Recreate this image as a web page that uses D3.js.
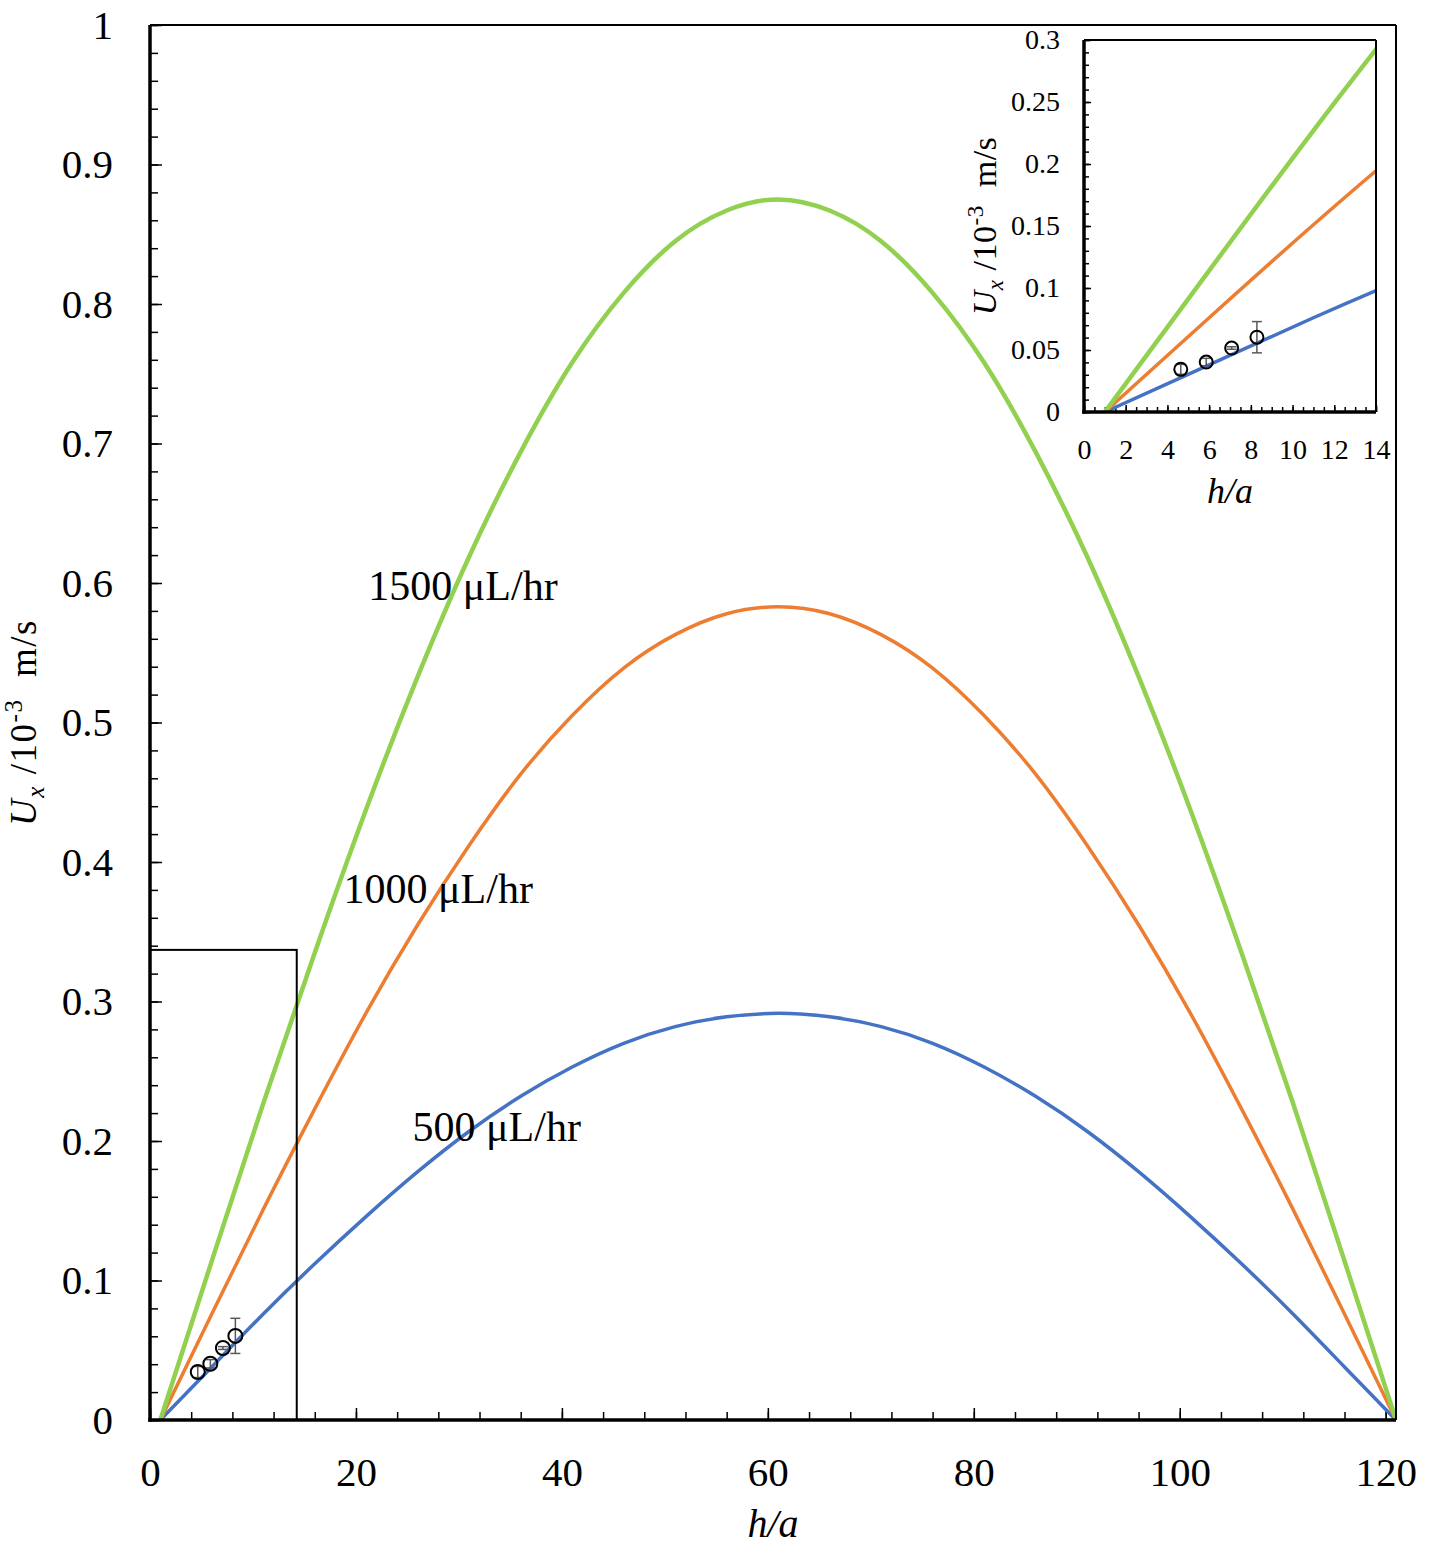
<!DOCTYPE html>
<html>
<head>
<meta charset="utf-8">
<script src="https://cdn.jsdelivr.net/npm/d3@7"></script>
<style>
  body { margin: 0; background: #fff; }
  svg { display: block; }
  text { font-family: "Liberation Serif", "Times New Roman", serif; fill: #000; }
</style>
</head>
<body>
<div id="chart"></div>
<script>
// ---------------------------------------------------------------------------
// Data
// ---------------------------------------------------------------------------
const hOverA = [1, 6, 11, 16, 21, 26, 31, 36, 41, 46, 51, 56, 61,
                66, 71, 76, 81, 86, 91, 96, 101, 106, 111, 116, 121];
const ux500 = [0, 0.038, 0.076, 0.112, 0.146, 0.178, 0.207, 0.232, 0.253, 0.270, 0.282, 0.289, 0.2915,
               0.289, 0.282, 0.270, 0.253, 0.232, 0.207, 0.178, 0.146, 0.112, 0.076, 0.038, 0];
const ux1000 = [0, 0.076, 0.151, 0.223, 0.292, 0.355, 0.412, 0.463, 0.505, 0.539, 0.563, 0.578, 0.583,
                0.578, 0.563, 0.539, 0.505, 0.463, 0.412, 0.355, 0.292, 0.223, 0.151, 0.076, 0];
const ux1500 = [0, 0.114, 0.227, 0.335, 0.438, 0.533, 0.619, 0.694, 0.758, 0.808, 0.845, 0.867, 0.875,
                0.867, 0.845, 0.808, 0.758, 0.694, 0.619, 0.533, 0.438, 0.335, 0.227, 0.114, 0];

const seriesNames = ["500 μL/hr", "1000 μL/hr", "1500 μL/hr"];
const seriesColors = ["#4472C4", "#ED7D31", "#92D050"];
const seriesWidths = [3.5, 3.5, 4.5];

// measured points with error bars
const expH = [4.64, 5.86, 7.08, 8.29];
const expU = [0.0344, 0.0403, 0.0516, 0.0603];
const expErr = [0.004, 0.003, 0.001, 0.0126];

// curve label anchors (h/a, Ux)
const labelH = [25.5, 18.8, 21.2];
const labelU = [0.2, 0.3705, 0.588];

// ---------------------------------------------------------------------------
const W = 1434, H = 1546;
const svg = d3.select("#chart").append("svg").attr("width", W).attr("height", H);

const series = seriesNames.map((name, i) => ({
  name, color: seriesColors[i], width: seriesWidths[i],
  values: hOverA.map((h, j) => ({ h, u: [ux500, ux1000, ux1500][i][j] })),
}));
const points = expH.map((h, i) => ({ h, u: expU[i], e: expErr[i] }));

function drawPanel(g, opt) {
  const { x, y } = opt;
  const [x0, x1] = x.range();
  const [y0, y1] = y.range();

  const clipId = "clip-" + opt.id;
  g.append("clipPath").attr("id", clipId)
    .append("rect").attr("x", x0).attr("y", y1).attr("width", x1 - x0).attr("height", y0 - y1);

  // minor + major ticks, pointing inward
  g.append("g").attr("transform", `translate(${x0},0)`)
    .call(d3.axisLeft(y).tickValues(opt.yMinor).tickSize(-opt.minorLen).tickFormat(""))
    .call(s => s.select(".domain").remove());
  g.append("g").attr("transform", `translate(0,${y0})`)
    .call(d3.axisBottom(x).tickValues(opt.xMinor).tickSize(-opt.minorLen).tickFormat(""))
    .call(s => s.select(".domain").remove());

  const yAx = g.append("g").attr("transform", `translate(${x0},0)`)
    .call(d3.axisLeft(y).tickValues(opt.yMajor).tickSize(-opt.majorLen).tickPadding(opt.yPad)
      .tickFormat(d3.format("")))
    .call(s => s.select(".domain").remove());
  yAx.selectAll("text").style("font-size", opt.tickFont + "px")
    .style("font-family", '"Liberation Serif", serif');

  const xAx = g.append("g").attr("transform", `translate(0,${y0})`)
    .call(d3.axisBottom(x).tickValues(opt.xMajor).tickSize(-opt.majorLen).tickPadding(opt.xPad)
      .tickFormat(d3.format("")))
    .call(s => s.select(".domain").remove());
  xAx.selectAll("text").style("font-size", opt.tickFont + "px")
    .style("font-family", '"Liberation Serif", serif');
  g.selectAll(".tick line").attr("stroke", "#000").attr("stroke-width", opt.tickW);

  // curves
  const line = d3.line().x(d => x(d.h)).y(d => y(d.u)).curve(d3.curveNatural);
  const curves = g.append("g").attr("clip-path", `url(#${clipId})`);
  curves.selectAll("path").data(series).join("path")
    .attr("d", d => line(d.values))
    .attr("fill", "none")
    .attr("stroke", d => d.color)
    .attr("stroke-width", d => d.width * opt.lineScale);

  // error bars + circles
  const pg = g.append("g");
  pg.selectAll("line.err").data(points).join("line").attr("class", "err")
    .attr("x1", d => x(d.h)).attr("x2", d => x(d.h))
    .attr("y1", d => y(d.u - d.e)).attr("y2", d => y(d.u + d.e))
    .attr("stroke", "#595959").attr("stroke-width", 1.5);
  for (const side of [-1, 1]) {
    pg.selectAll("line.cap" + side).data(points).join("line").attr("class", "cap" + side)
      .attr("x1", d => x(d.h) - opt.cap).attr("x2", d => x(d.h) + opt.cap)
      .attr("y1", d => y(d.u + side * d.e)).attr("y2", d => y(d.u + side * d.e))
      .attr("stroke", "#595959").attr("stroke-width", 1.5);
  }
  pg.selectAll("circle").data(points).join("circle")
    .attr("cx", d => x(d.h)).attr("cy", d => y(d.u)).attr("r", opt.r)
    .attr("fill", "none").attr("stroke", "#000").attr("stroke-width", 2);

  // frame: thick left/bottom, thin top/right
  g.append("line").attr("x1", x0).attr("x2", x1).attr("y1", y1).attr("y2", y1)
    .attr("stroke", "#000").attr("stroke-width", opt.thin);
  g.append("line").attr("x1", x1).attr("x2", x1).attr("y1", y1).attr("y2", y0)
    .attr("stroke", "#000").attr("stroke-width", opt.thin);
  g.append("line").attr("x1", x0).attr("x2", x0).attr("y1", y1).attr("y2", y0 + opt.thick / 2)
    .attr("stroke", "#000").attr("stroke-width", opt.thick);
  g.append("line").attr("x1", x0 - opt.thick / 2).attr("x2", x1).attr("y1", y0).attr("y2", y0)
    .attr("stroke", "#000").attr("stroke-width", opt.thick);

  // axis titles
  g.append("text").attr("x", (x0 + x1) / 2).attr("y", opt.xTitleY)
    .attr("text-anchor", "middle").style("font-size", opt.xTitleFont + "px")
    .style("font-style", "italic").text("h/a");

  const f = opt.yTitleFont;
  const yt = g.append("text")
    .attr("transform", `translate(${opt.yTitleX},${(y0 + y1) / 2}) rotate(-90)`)
    .attr("text-anchor", "middle").style("font-size", f + "px")
    .style("letter-spacing", opt.yTitleSpacing + "px");
  yt.append("tspan").style("font-style", "italic").text("U");
  yt.append("tspan").style("font-style", "italic").style("font-size", (f * 0.68) + "px")
    .attr("dy", f * 0.22).text("x");
  yt.append("tspan").attr("dy", -f * 0.22).text("\u00a0/10");
  yt.append("tspan").style("font-size", (f * 0.68) + "px")
    .attr("dy", -f * 0.38).text("-3");
  yt.append("tspan").attr("dy", f * 0.38).text("\u00a0\u00a0m/s");
}

// ---------------------------------------------------------------------------
// Main chart
// ---------------------------------------------------------------------------
const x = d3.scaleLinear().domain([0, 121]).range([150, 1396]);
const y = d3.scaleLinear().domain([0, 1]).range([1420, 25]);
const main = svg.append("g");

drawPanel(main, {
  id: "main", x, y,
  yMajor: d3.range(0, 1.001, 0.1).map(v => +v.toFixed(1)),
  yMinor: d3.range(0, 1.001, 0.02).map(v => +v.toFixed(2)),
  xMajor: d3.range(0, 121, 20),
  xMinor: d3.range(0, 121, 4),
  majorLen: 12, minorLen: 8, tickW: 1.5,
  yPad: 37, xPad: 37, tickFont: 41,
  xTitleFont: 40, yTitleFont: 37, yTitleSpacing: 1.5,
  xTitleY: 1537, yTitleX: 36,
  lineScale: 1, r: 7, cap: 5, thin: 2, thick: 3.5,
});

// zoom rectangle showing the inset range
main.append("rect")
  .attr("x", x(0)).attr("y", y(0.337))
  .attr("width", x(14.25) - x(0)).attr("height", y(0) - y(0.337))
  .attr("fill", "none").attr("stroke", "#000").attr("stroke-width", 2);

// curve labels
main.selectAll("text.lbl").data(seriesNames).join("text").attr("class", "lbl")
  .attr("x", (d, i) => x(labelH[i])).attr("y", (d, i) => y(labelU[i]))
  .style("font-size", "42px").text(d => d);

// ---------------------------------------------------------------------------
// Inset
// ---------------------------------------------------------------------------
const xi = d3.scaleLinear().domain([0, 14]).range([1084, 1376]);
const yi = d3.scaleLinear().domain([0, 0.3]).range([412, 40]);
const inset = svg.append("g");

drawPanel(inset, {
  id: "inset", x: xi, y: yi,
  yMajor: d3.range(0, 0.301, 0.05).map(v => +v.toFixed(2)),
  yMinor: d3.range(0, 0.301, 0.01).map(v => +v.toFixed(2)),
  xMajor: d3.range(0, 14.01, 2),
  xMinor: d3.range(0, 14.01, 0.5),
  majorLen: 7, minorLen: 5, tickW: 1.5,
  yPad: 24, xPad: 27, tickFont: 28,
  xTitleFont: 36, yTitleFont: 34, yTitleSpacing: 0.5,
  xTitleY: 503, yTitleX: 996,
  lineScale: 1, r: 6.5, cap: 5, thin: 2, thick: 3.5,
});
</script>
</body>
</html>
